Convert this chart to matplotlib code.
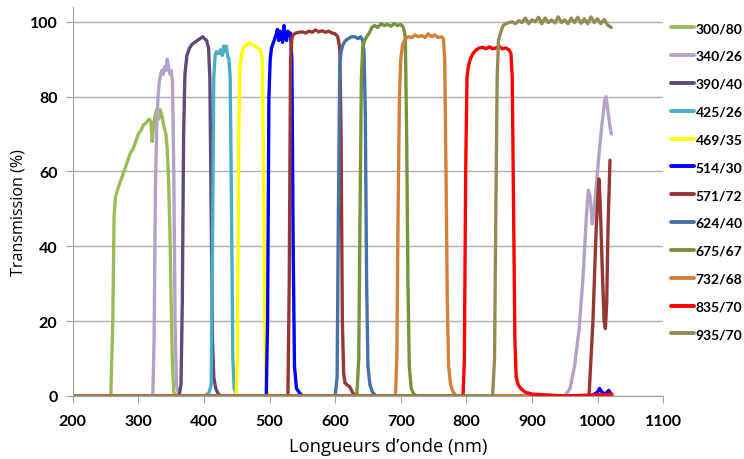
import numpy as np
import matplotlib.pyplot as plt

# donnees (longueur d'onde en nm, transmission en %)
wl_300_80 = [200, 258, 261, 263, 265, 268, 272, 276, 280, 284, 288, 292, 296, 300, 304, 308, 312, 316, 319, 321,
             323, 326, 329, 331, 333, 336, 339, 342, 344, 346, 348, 350, 352, 354, 358, 1022]
tr_300_80 = [0, 0, 20, 48, 53, 55, 57, 59, 61, 63, 65, 66, 68, 70, 71, 72.5, 73, 74, 73.5, 68,
             72, 75.5, 77, 74, 76.5, 75, 72, 70, 66, 58, 45, 25, 8, 1, 0, 0]

wl_340_26 = [200, 322, 324, 326, 328, 330, 332, 334, 336, 338, 340, 342, 344, 346, 348, 350, 352, 354, 356, 358,
             362, 950, 958, 965, 972, 978, 983, 986, 989, 992, 995, 999, 1003, 1007, 1011, 1013, 1016, 1019, 1021]
tr_340_26 = [0, 0, 15, 55, 72, 80, 84, 86, 87, 86, 88, 87, 90, 88, 86, 87, 84, 60, 20, 3,
             0, 0, 2, 8, 18, 32, 48, 55, 53, 46, 50, 58, 66, 73, 79, 80, 76, 72, 70]

wl_390_40 = [200, 362, 365, 367, 369, 371, 374, 378, 382, 386, 390, 394, 398, 401, 404, 407, 409, 411, 413, 415,
             418, 422, 426, 1022]
tr_390_40 = [0, 0, 3, 25, 70, 86, 91, 93, 94, 94.5, 95, 95.5, 96, 95.5, 95, 93, 85, 50, 15, 5,
             2, 0.5, 0, 0]

wl_425_26 = [200, 402, 408, 411, 413, 415, 417, 419, 422, 425, 428, 430, 432, 434, 436, 438, 440, 442, 444, 446,
             450, 1022]
tr_425_26 = [0, 0, 1, 3, 40, 85, 91, 92, 91.5, 92.5, 91, 93.5, 92, 93.5, 91, 90, 85, 50, 10, 2,
             0, 0]

wl_469_35 = [200, 449, 451, 453, 455, 458, 462, 466, 470, 474, 478, 482, 486, 489, 491, 493, 495, 498, 1022]
tr_469_35 = [0, 0, 10, 70, 88, 92, 93.5, 94, 94.3, 93.8, 93.5, 93, 92.5, 90, 60, 15, 2, 0, 0]

wl_514_30 = [200, 495, 497, 499, 501, 503, 506, 509, 512, 514, 516, 518, 520, 522, 524, 526, 528, 530, 532, 534,
             536, 538, 541, 545, 550, 990, 1000, 1003, 1007, 1012, 1017, 1021]
tr_514_30 = [0, 0, 20, 80, 90, 93, 94.5, 96, 98, 95, 97.5, 96, 94.5, 99, 96, 95, 97.5, 96.5, 97, 90,
             40, 8, 2, 1, 0, 0, 1, 2, 1, 0.5, 1.5, 0.5]

wl_571_72 = [200, 528, 530, 532, 534, 536, 540, 545, 550, 555, 560, 565, 570, 575, 580, 585, 590, 595, 600, 604,
             607, 609, 611, 613, 615, 618, 622, 625, 628, 632, 987, 993, 998, 1002, 1004, 1007, 1010, 1012, 1014,
             1016, 1019]
tr_571_72 = [0, 0, 30, 90, 95.5, 96.5, 97, 97.2, 97.3, 97, 97.5, 97.2, 97.8, 97.3, 97.6, 97.2, 97.5, 97, 96.8, 96,
             93, 70, 20, 6, 3.5, 3, 2.5, 1.5, 0.5, 0, 0, 20, 45, 58, 52, 35, 20, 18, 25,
             45, 63]

wl_624_40 = [200, 600, 603, 605, 607, 609, 612, 616, 620, 625, 630, 635, 639, 642, 644, 646, 648, 650, 653, 657,
             662, 1022]
tr_624_40 = [0, 0, 5, 50, 88, 92, 94, 95, 95.5, 96, 96, 95.5, 96, 95, 92, 75, 30, 8, 3, 1,
             0, 0]

wl_675_67 = [200, 633, 636, 638, 640, 642, 645, 648, 652, 656, 660, 665, 670, 675, 680, 685, 690, 695, 700, 704,
             707, 709, 711, 713, 716, 720, 725, 1022]
tr_675_67 = [0, 0, 10, 50, 85, 93, 95, 96, 97, 98.5, 99, 98.5, 99.5, 99, 99.3, 98.8, 99.5, 99, 99.3, 98.5,
             96, 70, 30, 8, 2, 0.5, 0, 0]

wl_732_68 = [200, 692, 694, 696, 698, 700, 703, 707, 712, 717, 722, 727, 732, 737, 742, 747, 752, 757, 762, 765,
             767, 769, 771, 773, 776, 780, 785, 1022]
tr_732_68 = [0, 0, 10, 50, 80, 90, 94, 95.5, 96, 95.8, 96.5, 96, 96.3, 95.8, 96.8, 96, 96.5, 95.8, 96, 95.5,
             90, 60, 25, 8, 3, 1, 0, 0]

wl_835_70 = [200, 795, 797, 799, 801, 803, 806, 810, 815, 820, 825, 830, 835, 840, 845, 850, 855, 860, 865, 868,
             870, 872, 874, 876, 879, 883, 890, 900, 950, 1000, 1022]
tr_835_70 = [0, 0, 10, 60, 85, 88, 90, 91.5, 92.5, 93, 93.2, 92.8, 93.3, 92.8, 93, 93.4, 92.8, 93, 92.5, 91.5,
             85, 50, 15, 5, 3, 2, 1, 0.5, 0, 0.3, 0.5]

wl_935_70 = [200, 840, 843, 845, 847, 849, 852, 856, 860, 865, 870, 875, 880, 885, 890, 895, 900, 905, 910, 915,
             920, 925, 930, 935, 940, 945, 950, 955, 960, 965, 970, 975, 980, 985, 990, 995, 1000, 1005, 1010,
             1015, 1018, 1021]
tr_935_70 = [0, 0, 10, 50, 85, 95, 97, 99, 99.5, 99.8, 100, 99.5, 100.3, 99.8, 101, 99.5, 100.5, 100, 101.2, 99.5,
             101, 99.8, 100.5, 99.7, 101.3, 99.8, 100.5, 99.5, 101, 99.8, 101.2, 99.6, 100.8, 99.5, 101.3, 99.8,
             100.8, 99.5, 100.6, 99.2, 98.8, 98.5]

noms = ['300/80', '340/26', '390/40', '425/26', '469/35', '514/30',
        '571/72', '624/40', '675/67', '732/68', '835/70', '935/70']
couleurs = ['#9BBB59', '#B3A2C7', '#604A7B', '#4BACC6', '#FFFF00', '#0000FF',
            '#953735', '#4672A8', '#77933C', '#D3813A', '#FF0000', '#948A54']
longueurs = [wl_300_80, wl_340_26, wl_390_40, wl_425_26, wl_469_35, wl_514_30,
             wl_571_72, wl_624_40, wl_675_67, wl_732_68, wl_835_70, wl_935_70]
transmissions = [tr_300_80, tr_340_26, tr_390_40, tr_425_26, tr_469_35, tr_514_30,
                 tr_571_72, tr_624_40, tr_675_67, tr_732_68, tr_835_70, tr_935_70]

fig = plt.figure(figsize=(7.44, 4.6), dpi=100)
ax = fig.add_axes([0.0978, 0.137, 0.7935, 0.846])

for x, y, c, n in zip(longueurs, transmissions, couleurs, noms):
    ax.plot(np.array(x), np.array(y), color=c, lw=2.4, label=n,
            solid_joinstyle='round', solid_capstyle='round')

ax.set_xlim(200, 1100)
ax.set_ylim(0, 104)
ax.set_xticks(range(200, 1101, 100))
ax.set_yticks(range(0, 101, 20))
ax.grid(axis='y', color='#B0B0B0', lw=1)
ax.set_axisbelow(True)
for s in ['top', 'right']:
    ax.spines[s].set_visible(False)
for s in ['left', 'bottom']:
    ax.spines[s].set_color('#A0A0A0')
ax.tick_params(colors='#A0A0A0', length=5, labelcolor='black')
ax.tick_params(axis='x', pad=8)
ax.tick_params(axis='y', pad=6)
for lab in ax.get_xticklabels() + ax.get_yticklabels():
    lab.set_fontfamily('Lato')
    lab.set_fontweight('bold')
    lab.set_fontsize(11.5)

ax.set_xlabel('Longueurs d’onde (nm)', fontfamily='Open Sans', fontsize=13.2)
ax.set_ylabel('Transmission (%)', fontfamily='Open Sans', fontsize=11.6)
ax.xaxis.set_label_coords(0.534, -0.105)
ax.yaxis.set_label_coords(-0.078, 0.473)

leg = fig.legend(loc='upper left', bbox_to_anchor=(0.893, 0.965), frameon=False,
                 handlelength=1.6, handletextpad=0.15, labelspacing=1.14, borderpad=0,
                 prop={'family': 'Lato', 'weight': 'bold', 'size': 10})
for h in leg.get_lines():
    h.set_linewidth(2.8)

fig.savefig('out.png', dpi=100)
